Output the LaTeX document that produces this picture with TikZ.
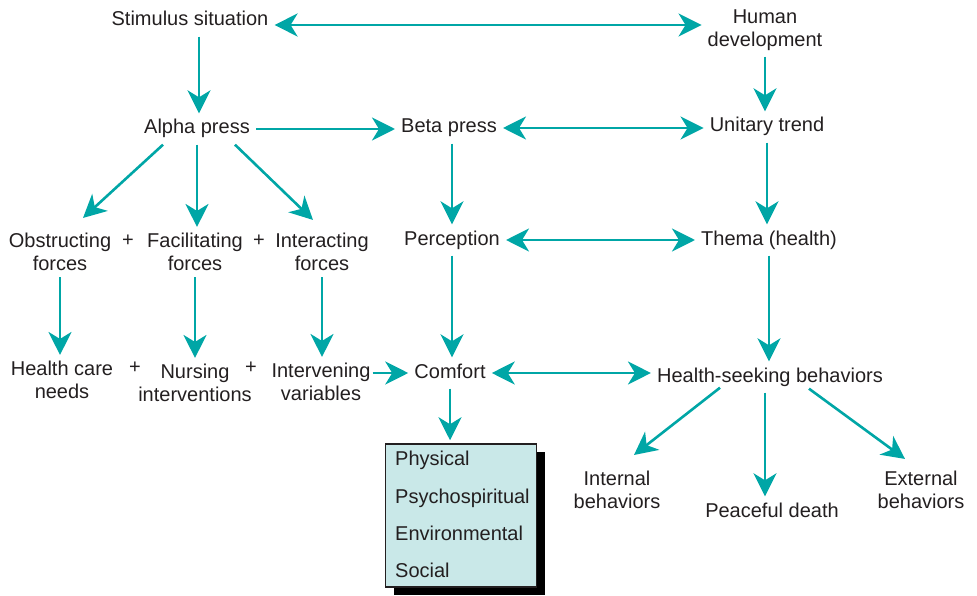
\documentclass[tikz,border=0pt]{standalone}
\usepackage{fontspec}
\setmainfont{Liberation Sans}
\usetikzlibrary{arrows.meta}
\definecolor{flowteal}{RGB}{0,166,166}
\definecolor{boxcyan}{RGB}{201,232,232}
\definecolor{ink}{RGB}{35,31,32}

\begin{document}
\begin{tikzpicture}[x=1pt,y=-1pt,
        every node/.style={font=\fontsize{20}{23}\selectfont, text=ink, inner sep=6pt},
        lbl/.style={anchor=base, text height=14.5pt, text depth=4.5pt},
        lbl2/.style={align=center},
        flow/.style={draw=flowteal, line width=2.6pt, -{Stealth[length=23pt,width=23pt,inset=7pt]}},
        both/.style={flow, {Stealth[length=23pt,width=23pt,inset=7pt]}-{Stealth[length=23pt,width=23pt,inset=7pt]}}]
        \useasboundingbox (0,0) rectangle (977,596);

        \node[lbl] (stim) at (190,26) {Stimulus situation};
        \node[lbl2] (human) at (765,30) {Human\\development};
        \node[lbl] (alpha) at (197,134) {Alpha press};
        \node[lbl] (beta) at (449,133) {Beta press};
        \node[lbl] (unit) at (767,132) {Unitary trend};
        \node[lbl2] (obstr) at (60,252) {Obstructing\\forces};
        \node[lbl] (plusa) at (128,246) {+};
        \node[lbl2] (facil) at (195,252) {Facilitating\\forces};
        \node[lbl] (plusb) at (259,246) {+};
        \node[lbl2] (inter) at (322,252) {Interacting\\forces};
        \node[lbl] (perc) at (452,245) {Perception};
        \node[lbl] (thema) at (769,245) {Thema (health)};
        \node[lbl2] (needs) at (62,380) {Health care\\needs};
        \node[lbl] (plusc) at (135,373) {+};
        \node[lbl2] (nurs) at (195,383) {Nursing\\interventions};
        \node[lbl] (plusd) at (251,373) {+};
        \node[lbl2] (interv) at (321,382) {Intervening\\variables};
        \node[lbl] (comf) at (450,378) {Comfort};
        \node[lbl] (hsb) at (770,382) {Health-seeking behaviors};
        \node[lbl2] (intern) at (617,490) {Internal\\behaviors};
        \node[lbl] (death) at (772,517) {Peaceful death};
        \node[lbl2] (extern) at (921,490) {External\\behaviors};

        \fill[black] (394,452) rectangle (545,595);
        \node[draw=ink, line width=1.5pt, fill=boxcyan, minimum width=151pt, minimum height=143pt, inner sep=0pt] (types) at (461,515.5) {};
        \node[lbl, anchor=base west, inner sep=0pt] (phys) at (395,465) {Physical};
        \node[lbl, anchor=base west, inner sep=0pt] (psych) at (395,503) {Psychospiritual};
        \node[lbl, anchor=base west, inner sep=0pt] (env) at (395,540) {Environmental};
        \node[lbl, anchor=base west, inner sep=0pt] (soc) at (395,577) {Social};

        \draw[both] ([yshift=-4pt]stim.east) -- ([yshift=-4pt]stim.east -| human.west);
        \draw[flow] ([xshift=2pt]alpha.north |- stim.south) -- ([xshift=2pt]alpha.north);
        \draw[flow] (human.south) -- (human.south |- unit.north);
        \draw[flow] (alpha.east) -- (alpha.east -| beta.west);
        \draw[both] (beta.east) -- (beta.east -| unit.west);
        \draw[flow] ([xshift=-34pt]alpha.south) -- ([xshift=23pt,yshift=9pt]obstr.north);
        \draw[flow] (alpha.south) -- (alpha.south |- facil.north);
        \draw[flow] ([xshift=38pt]alpha.south) -- ([xshift=-9pt,yshift=7pt]inter.north);
        \draw[flow] (perc.north |- beta.south) -- (perc.north);
        \draw[flow] (unit.south) -- (unit.south |- thema.north);
        \draw[both] (perc.east) -- (perc.east -| thema.west);
        \draw[flow] (obstr.south) -- (obstr.south |- needs.north);
        \draw[flow] (facil.south) -- (facil.south |- nurs.north);
        \draw[flow] (inter.south) -- (inter.south |- interv.north);
        \draw[flow] ([xshift=-4pt]comf.west -| interv.east) -- (comf.west);
        \draw[flow] (perc.south) -- (perc.south |- comf.north);
        \draw[both] (comf.east) -- (comf.east -| hsb.west);
        \draw[flow] (thema.south) -- (thema.south |- hsb.north);
        \draw[flow] (comf.south) -- ([yshift=3pt]comf.south |- types.north);
        \draw[flow] ([xshift=-50pt,yshift=5pt]hsb.south) -- ([xshift=17pt,yshift=10pt]intern.north);
        \draw[flow] ([xshift=-5pt]hsb.south) -- ([xshift=-5pt]hsb.south |- death.north);
        \draw[flow] ([xshift=39pt,yshift=4pt]hsb.south) -- ([xshift=-16pt,yshift=6pt]extern.north);
    \end{tikzpicture}
\end{document}
